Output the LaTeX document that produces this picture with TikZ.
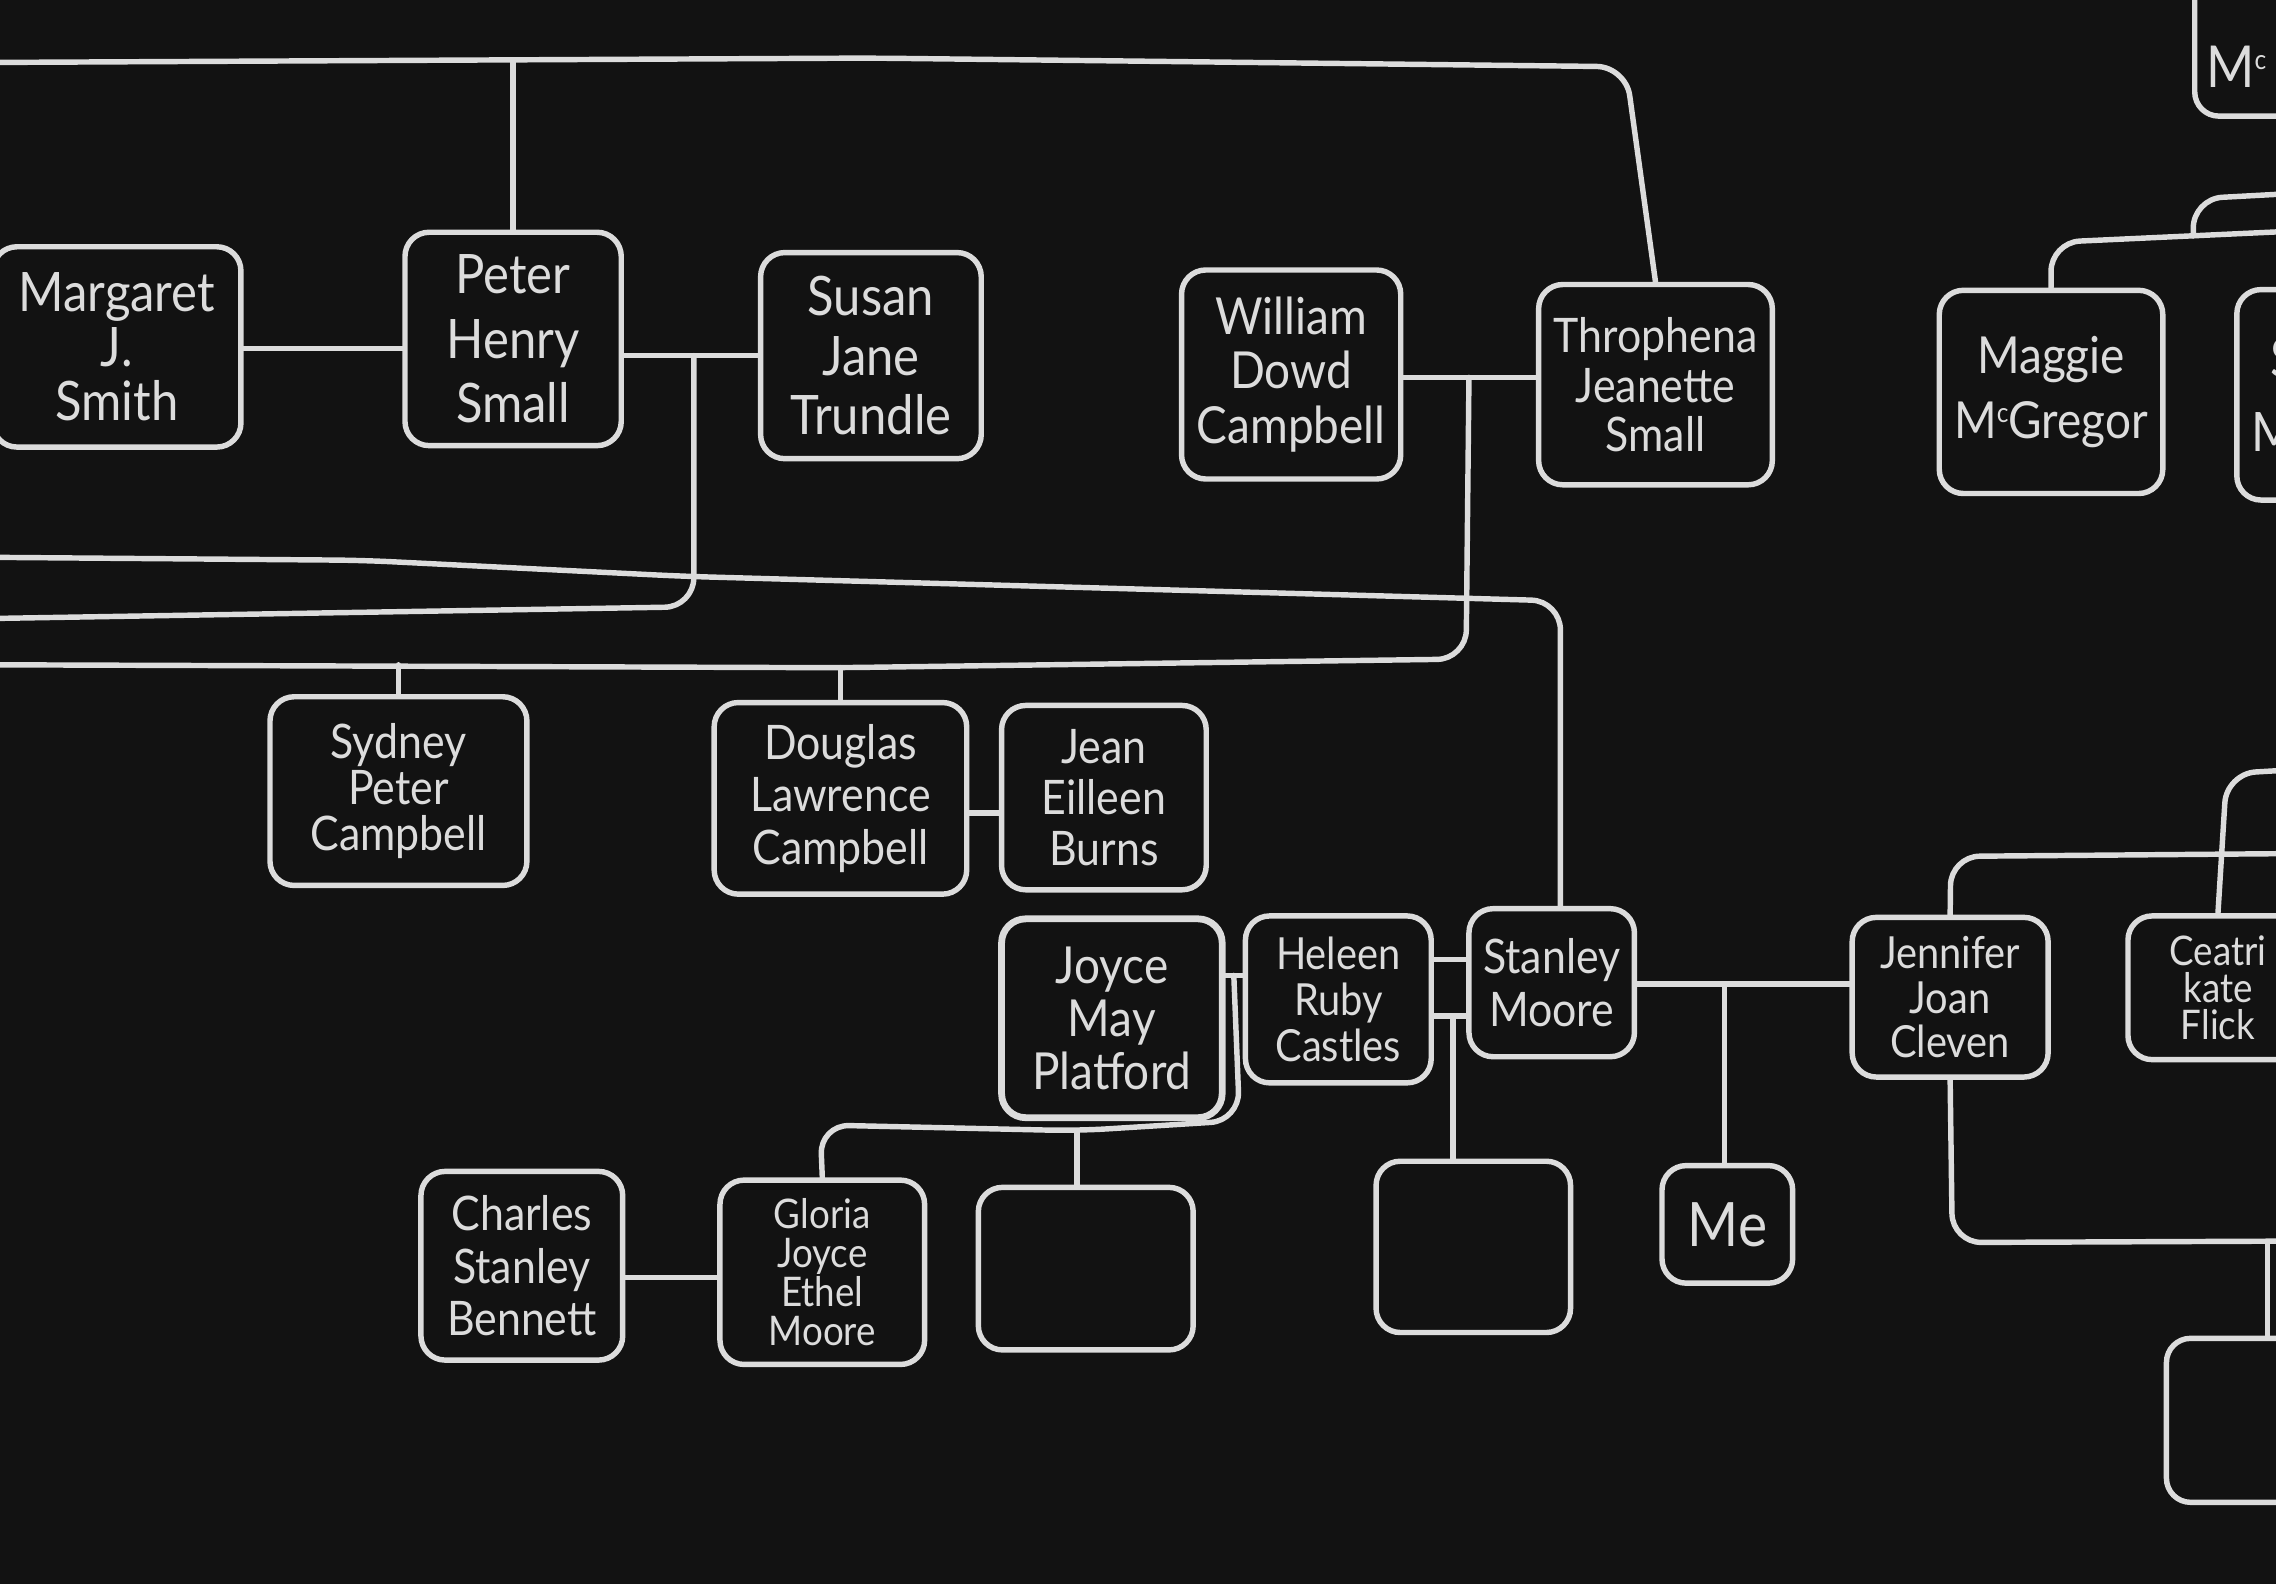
\documentclass[tikz,border=0pt]{standalone}
\usepackage{fontspec}
\setmainfont{Lato}[FakeStretch=0.9]
\usetikzlibrary{calc}
\definecolor{chalk}{HTML}{DCDCDC}
\definecolor{board}{HTML}{121212}
\newcommand\supc{\raisebox{0.6ex}{\fontsize{8}{8}\selectfont c}}
\begin{document}
\begin{tikzpicture}[x=0.015cm,y=-0.015cm,
  line/.style={draw=chalk,line width=1.6pt,line join=round,line cap=round,rounded corners=0.3cm},
  pbox/.style 2 args={draw=chalk,line width=1.6pt,rounded corners=0.25cm,
    minimum width=#1*0.015cm,minimum height=#2*0.015cm,inner sep=0pt,align=center,text=chalk},
  fs/.style 2 args={font={\fontsize{#1}{#2}\selectfont}}]
\fill[board] (0,0) rectangle (1568,1091);
\useasboundingbox (0,0) rectangle (1568,1091);
\clip (0,0) rectangle (1568,1091);

% ---- people ----
\node[pbox={171}{138},fs={16}{16}] (marg) at (80.5,239) {Margaret\\J.\\Smith};
\node[pbox={149}{147},fs={16}{19}] (peter) at (353.5,233.5) {Peter\\Henry\\Small};
\node[pbox={152}{142},fs={16}{17.5}] (susan) at (600,245) {Susan\\Jane\\Trundle};
\node[pbox={151}{144},fs={15}{16}] (william) at (889.5,258) {William\\Dowd\\Campbell};
\node[pbox={161}{138},fs={14}{14.5}] (throph) at (1140.5,265) {Throphena\\Jeanette\\Small};
\node[pbox={154}{140},fs={15}{19}] (maggie) at (1413,270) {Maggie\\M\supc Gregor};
\node[pbox={100}{145},fs={16}{22},text width=80*0.015cm,align=left] (smc) at (1591,272) {\hspace*{0.195cm}S\\M};
\node[pbox={108}{110},fs={17}{20},text width=92*0.015cm,align=left] (mctop) at (1566,25) {\smash{\raisebox{-0.525cm}{M\supc}}};

\node[pbox={177}{130},fs={14}{13.5}] (sydney) at (274.5,545) {Sydney\\Peter\\Campbell};
\node[pbox={174}{132},fs={14}{15.5}] (douglas) at (579,550) {Douglas\\Lawrence\\Campbell};
\node[pbox={141}{127},fs={14}{15}] (jean) at (760.5,549.5) {Jean\\Eilleen\\Burns};

\node[pbox={152}{137},fs={15}{15.5},line width=2pt] (joyce) at (766,701.5) {Joyce\\May\\Platford};
\node[pbox={128}{115},fs={13}{13.5}] (heleen) at (922,688.5) {Heleen\\Ruby\\Castles};
\node[pbox={114}{102},fs={14}{15.5}] (stanley) at (1069,677) {Stanley\\Moore};
\node[pbox={135}{110},fs={13}{13}] (jennifer) at (1343.5,687) {Jennifer\\Joan\\Cleven};
\node[pbox={124}{99},fs={12}{11}] (ceatri) at (1528,680.5) {Ceatri\\kate\\Flick};

\node[pbox={139}{130},fs={14}{15.5}] (charles) at (359.5,872) {Charles\\Stanley\\Bennett};
\node[pbox={141}{127},fs={12}{11.5}] (gloria) at (566.5,876.5) {Gloria\\Joyce\\Ethel\\Moore};
\node[pbox={148}{112}] (empty1) at (748,874) {};
\node[pbox={134}{118}] (empty2) at (1015,859) {};
\node[pbox={90}{81},fs={18}{20}] (me) at (1190,843.5) {Me};
\node[pbox={107}{113}] (empty3) at (1546,978.5) {};

% ---- top generation ----
\coordinate (tl) at (0,43);
\draw[line] (tl) -- (600,40) -- (1120,46) -- (throph.north);
\draw[line] (peter.north) -- (peter.north |- tl);
\coordinate (mp) at (220,240);
\draw[line] (marg.east |- mp) -- (peter.west |- mp);

% Peter + Susan
\coordinate (ps) at (478,245);
\draw[line] (peter.east |- ps) -- (susan.west |- ps);
\coordinate (l2) at (0,426);
\draw[line] (ps) -- (478,418) -- (l2);

% long line to Stanley
\coordinate (l1) at (0,384);
\draw[line] (l1) -- (250,386) -- (470,397) -- (1075,414) -- ([xshift=0.09cm]stanley.north);

% William + Throphena
\coordinate (wt) at (1012,260);
\draw[line] (william.east |- wt) -- (throph.west |- wt);
\coordinate (l3) at (0,458);
\coordinate (l3b) at (578,460);
\draw[line] (wt) -- (1010,454) -- (l3b) -- (l3);
\draw[line] (sydney.north) -- (sydney.north |- l3);
\draw[line] (douglas.north) -- (douglas.north |- l3b);

% Douglas + Jean
\coordinate (dj) at (678,560);
\draw[line] (douglas.east |- dj) -- (jean.west |- dj);

% Joyce + Heleen
\coordinate (jh) at (850,672);
\draw[line] (joyce.east |- jh) -- (heleen.west |- jh);
\coordinate (jl) at (742,779);
\draw[line] (jh) -- (854,772) -- (jl) -- (565,775) -- (gloria.north);
\draw[line] (jl) -- (empty1.north -| jl);

% Heleen + Stanley
\coordinate (hs1) at (999,661);
\coordinate (hs2) at (1001,700);
\draw[line] (heleen.east |- hs1) -- (stanley.west |- hs1);
\draw[line] (heleen.east |- hs2) -- (stanley.west |- hs2);
\draw[line] (hs2) -- (empty2.north -| hs2);

% Stanley + Jennifer
\coordinate (sj) at (1188,678);
\draw[line] (stanley.east |- sj) -- (jennifer.west |- sj);
\draw[line] (sj) -- (me.north -| sj);

% Charles + Gloria
\coordinate (cg) at (460,880);
\draw[line] (charles.east |- cg) -- (gloria.west |- cg);

% right side
\coordinate (r1) at (1585,588);
\draw[line] (jennifer.north) -- (1344,590) -- (r1);
\coordinate (r2) at (1585,530);
\draw[line] (ceatri.north) -- (1534,533) -- (r2);
\coordinate (r3) at (1585,855);
\draw[line] (jennifer.south) -- (1345,856) -- (r3);
\coordinate (jb) at (1562,856);
\draw[line] (jb) -- (empty3.north -| jb);
\coordinate (r4) at (1585,159);
\draw[line] (maggie.north) -- (1413,167) -- (r4);
\coordinate (mb) at (1511,162.5);
\coordinate (r5) at (1585,133);
\draw[line] (mb) -- (1511,137) -- (r5);
\end{tikzpicture}
\end{document}
